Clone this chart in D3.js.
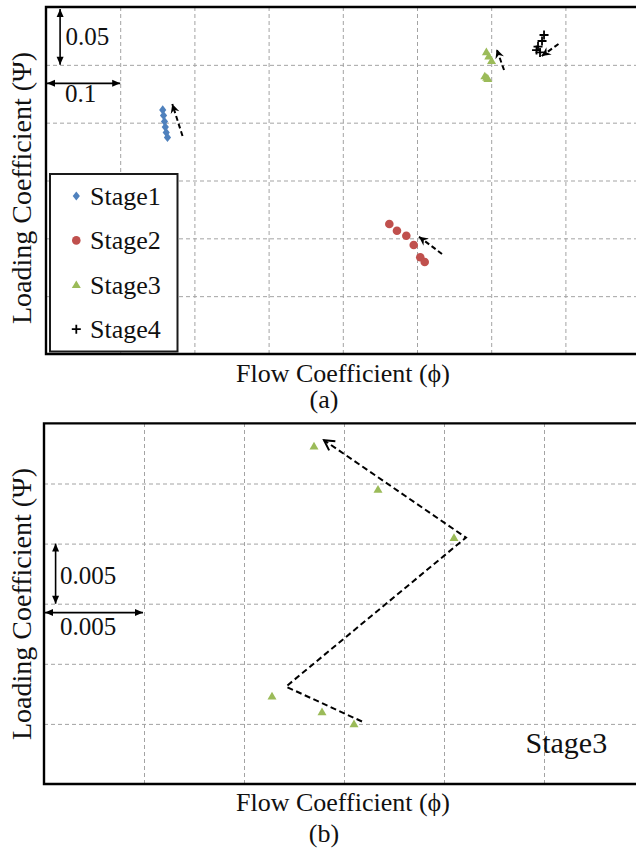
<!DOCTYPE html>
<html>
<head>
<meta charset="utf-8">
<script src="https://cdn.jsdelivr.net/npm/d3@7"></script>
<style>
  html, body { margin: 0; padding: 0; background: #fff; }
  svg { display: block; }
</style>
</head>
<body>
<svg id="chart" width="636" height="848"></svg>
<script>
// ---------------- DATA ----------------
const seriesNames = ["Stage1", "Stage2", "Stage3", "Stage4"];
const seriesColors = ["#4F81BD", "#C0504D", "#9BBB59", "#000000"];

// Flow coefficient (phi) and loading coefficient (psi) per stage
const stage1Phi = [0.1573, 0.1584, 0.1597, 0.1608, 0.1620, 0.1637];
const stage1Psi = [0.2110, 0.2062, 0.2010, 0.1962, 0.1915, 0.1872];
const stage2Phi = [0.4627, 0.4730, 0.4856, 0.4956, 0.5044, 0.5104];
const stage2Psi = [0.1124, 0.1066, 0.1023, 0.0942, 0.0836, 0.0795];
const stage3Phi = [0.5935, 0.5967, 0.6005, 0.5914, 0.5939, 0.5955];
const stage3Psi = [0.2611, 0.2575, 0.2535, 0.2403, 0.2390, 0.2380];
const stage4Phi = [0.6712, 0.6685, 0.6631, 0.6611, 0.6658];
const stage4Psi = [0.2758, 0.2706, 0.2658, 0.2628, 0.2607];

// Trend arrows (tail -> head) in data units, panel (a)
const trendArrowsA = [
  [[0.1840, 0.1885], [0.1702, 0.2161]],
  [[0.5337, 0.0865], [0.5027, 0.1014]],
  [[0.6173, 0.2455], [0.6074, 0.2634]],
  [[0.6907, 0.2680], [0.6681, 0.2576]]
];
// Trend path for Stage3, panel (b)
const trendPathB = [[0.5959, 0.2382], [0.5921, 0.2411], [0.6011, 0.2535], [0.5940, 0.2616]];

// Axis domains and grid steps
const domainA_phi = [0, 0.8];
const domainA_psi = [0, 0.30];
const stepA_phi = 0.1, stepA_psi = 0.05;
const domainB_phi = [0.58, 0.6098];
const domainB_psi = [0.233, 0.263];
const stepB_phi = 0.005, stepB_psi = 0.005;

// Scale-bar labels
const scaleLabelsA = ["0.05", "0.1"];
const scaleLabelsB = ["0.005", "0.005"];

const xTitle = "Flow Coefficient (\u03D5)";
const yTitle = "Loading Coefficient (\u03A8)";

// ---------------- DRAW ----------------
const FONT = "'Liberation Serif', 'Times New Roman', 'DejaVu Serif', serif";
const svg = d3.select("#chart").attr("font-family", FONT);
const defs = svg.append("defs");

defs.append("marker").attr("id", "headFill")
  .attr("viewBox", "-12 -6 14 12").attr("refX", 0).attr("refY", 0)
  .attr("markerWidth", 14).attr("markerHeight", 12).attr("markerUnits", "userSpaceOnUse")
  .attr("orient", "auto")
  .append("path").attr("d", "M0,0 L-9,-4.5 L-6,0 L-9,4.5 Z").attr("fill", "#000");

defs.append("marker").attr("id", "headOpen")
  .attr("viewBox", "-13 -7 15 14").attr("refX", 0).attr("refY", 0)
  .attr("markerWidth", 15).attr("markerHeight", 14).attr("markerUnits", "userSpaceOnUse")
  .attr("orient", "auto")
  .append("path").attr("d", "M-10,-5.5 L0,0 L-10,5.5").attr("fill", "none")
  .attr("stroke", "#000").attr("stroke-width", 2);

defs.append("marker").attr("id", "barHead")
  .attr("viewBox", "-10 -5 11 10").attr("refX", 0).attr("refY", 0)
  .attr("markerWidth", 11).attr("markerHeight", 10).attr("markerUnits", "userSpaceOnUse")
  .attr("orient", "auto-start-reverse")
  .append("path").attr("d", "M0,0 L-8,-3.5 L-8,3.5 Z").attr("fill", "#000");

function markerPath(type) {
  if (type === 0) return "M0,-4.6 L3.6,0 L0,4.6 L-3.6,0 Z";
  if (type === 1) return d3.symbol(d3.symbolCircle, 58)();
  if (type === 2) return "M0,-4.4 L4.5,3.3 L-4.5,3.3 Z";
  return "M-4.5,0 L4.5,0 M0,-4.5 L0,4.5";
}
function drawMarker(g, type, x, y) {
  const p = g.append("path").attr("d", markerPath(type))
    .attr("transform", `translate(${x},${y})`);
  if (type === 3) p.attr("fill", "none").attr("stroke", "#000").attr("stroke-width", 1.8);
  else p.attr("fill", seriesColors[type]);
}
function txt(g) {
  return g.append("text").attr("font-family", FONT).attr("fill", "#111");
}

function panel(opts) {
  const g = svg.append("g");
  const x = d3.scaleLinear().domain(opts.xDomain).range([opts.left, opts.right]);
  const y = d3.scaleLinear().domain(opts.yDomain).range([opts.bottom, opts.top]);

  const xTicks = d3.range(1, Math.ceil((opts.xDomain[1] - opts.xDomain[0]) / opts.xStep) + 1)
    .map(i => opts.xDomain[0] + i * opts.xStep);
  const yTicks = d3.range(1, Math.round((opts.yDomain[1] - opts.yDomain[0]) / opts.yStep))
    .map(i => opts.yDomain[0] + i * opts.yStep);

  const gx = g.append("g").attr("transform", `translate(0,${opts.bottom})`)
    .call(d3.axisBottom(x).tickValues(xTicks).tickSize(-(opts.bottom - opts.top)).tickFormat(""));
  const gy = g.append("g").attr("transform", `translate(${opts.left},0)`)
    .call(d3.axisLeft(y).tickValues(yTicks).tickSize(-(opts.right - opts.left)).tickFormat(""));
  [gx, gy].forEach(a => {
    a.select(".domain").remove();
    a.selectAll(".tick line").attr("stroke", "#a3a3a3").attr("stroke-width", 1)
      .attr("stroke-dasharray", "4,3");
  });

  g.append("path")
    .attr("d", `M${opts.right},${opts.top} L${opts.left},${opts.top} L${opts.left},${opts.bottom} L${opts.right},${opts.bottom}`)
    .attr("fill", "none").attr("stroke", "#000").attr("stroke-width", 2.4);

  txt(g).attr("x", 343).attr("y", opts.xTitleY)
    .attr("text-anchor", "middle").attr("font-size", 26).text(xTitle);
  txt(g).attr("transform", `translate(21.5,${opts.yTitleCY}) rotate(-90)`)
    .attr("text-anchor", "middle").attr("dy", "0.35em").attr("font-size", 28).text(yTitle);
  txt(g).attr("x", 324).attr("y", opts.captionY)
    .attr("text-anchor", "middle").attr("font-size", 26).text(opts.caption);
  return { g, x, y };
}

// ---------- Panel (a) ----------
const A = panel({
  left: 46, right: 46 + 742 * 0.8, top: 7, bottom: 354,
  xDomain: domainA_phi, yDomain: domainA_psi, xStep: stepA_phi, yStep: stepA_psi,
  xTitleY: 381.5, yTitleCY: 188, captionY: 408, caption: "(a)"
});

const barXa = 0.019;
A.g.append("line")
  .attr("x1", A.x(barXa)).attr("x2", A.x(barXa))
  .attr("y1", A.y(domainA_psi[1]) + 2).attr("y2", A.y(domainA_psi[1] - stepA_psi))
  .attr("stroke", "#000").attr("stroke-width", 1.6)
  .attr("marker-start", "url(#barHead)").attr("marker-end", "url(#barHead)");
txt(A.g).attr("x", A.x(barXa) + 5.5).attr("y", 45).attr("font-size", 25).text(scaleLabelsA[0]);
const barYa = 0.234;
A.g.append("line")
  .attr("x1", A.x(domainA_phi[0]) + 1).attr("x2", A.x(domainA_phi[0] + stepA_phi))
  .attr("y1", A.y(barYa)).attr("y2", A.y(barYa))
  .attr("stroke", "#000").attr("stroke-width", 1.6)
  .attr("marker-start", "url(#barHead)").attr("marker-end", "url(#barHead)");
txt(A.g).attr("x", 65).attr("y", 101.5).attr("font-size", 25).text(scaleLabelsA[1]);

trendArrowsA.forEach(seg => {
  A.g.append("path").attr("d", d3.line().x(d => A.x(d[0])).y(d => A.y(d[1]))(seg))
    .attr("fill", "none").attr("stroke", "#000").attr("stroke-width", 2)
    .attr("stroke-dasharray", "5,3").attr("marker-end", "url(#headFill)");
});

const phiSets = [stage1Phi, stage2Phi, stage3Phi, stage4Phi];
const psiSets = [stage1Psi, stage2Psi, stage3Psi, stage4Psi];
phiSets.forEach((phis, s) => {
  phis.forEach((p, i) => drawMarker(A.g, s, A.x(p), A.y(psiSets[s][i])));
});

const leg = A.g.append("g");
leg.append("rect").attr("x", 50).attr("y", 174).attr("width", 127.5).attr("height", 177.5)
  .attr("fill", "#fff").attr("stroke", "#1a1a1a").attr("stroke-width", 2);
seriesNames.forEach((name, i) => {
  const cy = 196 + i * 44.4;
  drawMarker(leg, i, 76.3, cy);
  txt(leg).attr("x", 90).attr("y", cy).attr("dy", "0.34em")
    .attr("font-size", 26).text(name);
});

// ---------- Panel (b) ----------
const B = panel({
  left: 44, right: 44 + 100 * (domainB_phi[1] - domainB_phi[0]) / stepB_phi, top: 423.4, bottom: 784,
  xDomain: domainB_phi, yDomain: domainB_psi, xStep: stepB_phi, yStep: stepB_psi,
  xTitleY: 811, yTitleCY: 604, captionY: 841.5, caption: "(b)"
});

const barXb = 0.58058;
B.g.append("line")
  .attr("x1", B.x(barXb)).attr("x2", B.x(barXb))
  .attr("y1", B.y(domainB_psi[0] + 4 * stepB_psi)).attr("y2", B.y(domainB_psi[0] + 3 * stepB_psi))
  .attr("stroke", "#000").attr("stroke-width", 1.6)
  .attr("marker-start", "url(#barHead)").attr("marker-end", "url(#barHead)");
txt(B.g).attr("x", 60).attr("y", 584).attr("font-size", 25).text(scaleLabelsB[0]);
const barYb = 0.24726;
B.g.append("line")
  .attr("x1", B.x(domainB_phi[0]) + 1).attr("x2", B.x(domainB_phi[0] + stepB_phi) - 1)
  .attr("y1", B.y(barYb)).attr("y2", B.y(barYb))
  .attr("stroke", "#000").attr("stroke-width", 1.6)
  .attr("marker-start", "url(#barHead)").attr("marker-end", "url(#barHead)");
txt(B.g).attr("x", 60).attr("y", 635).attr("font-size", 25).text(scaleLabelsB[1]);

B.g.append("path").attr("d", d3.line().x(d => B.x(d[0])).y(d => B.y(d[1]))(trendPathB))
  .attr("fill", "none").attr("stroke", "#000").attr("stroke-width", 2)
  .attr("stroke-dasharray", "6,3.5").attr("marker-end", "url(#headOpen)");

stage3Phi.forEach((p, i) => drawMarker(B.g, 2, B.x(p), B.y(stage3Psi[i])));

txt(B.g).attr("x", 525.5).attr("y", 753).attr("font-size", 30).text(seriesNames[2]);
</script>
</body>
</html>
